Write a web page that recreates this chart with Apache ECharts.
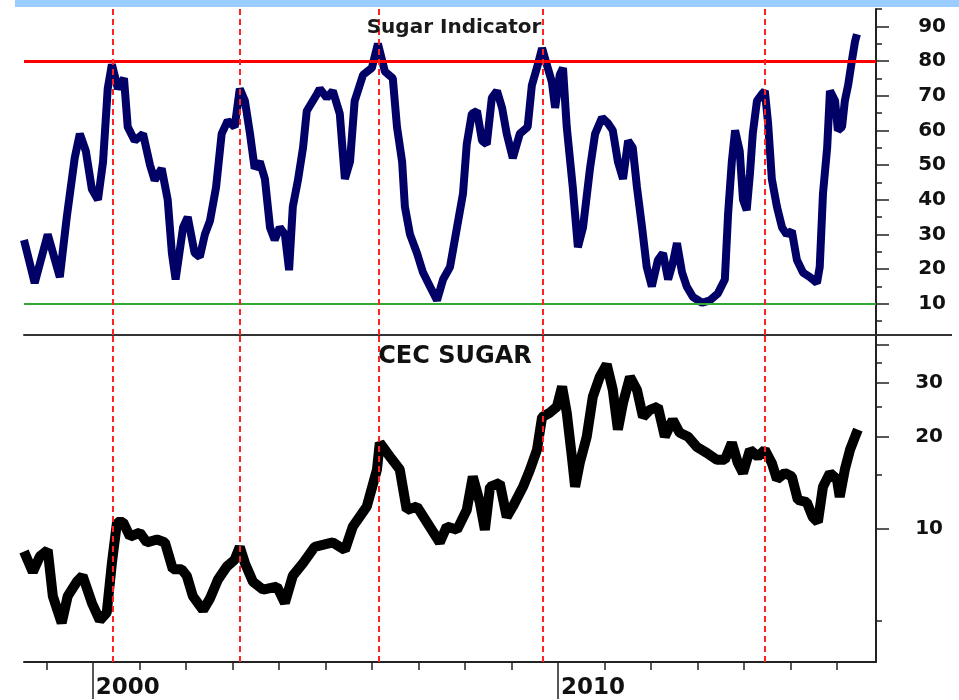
<!DOCTYPE html>
<html>
<head>
<meta charset="utf-8">
<script src="https://cdn.jsdelivr.net/npm/echarts@6/dist/echarts.min.js"></script>
<style>
html, body { margin: 0; padding: 0; background: #fff; }
#chart { width: 959px; height: 700px; }
</style>
</head>
<body>
<div id="chart"></div>
<script>
// Sugar Indicator (top panel), x = decimal year
var indYears = [1998.52, 1998.75, 1999.03, 1999.29, 1999.44, 1999.61, 1999.72, 1999.85, 1999.98, 2000.11,
    2000.22, 2000.32, 2000.41, 2000.54, 2000.67, 2000.75, 2000.90, 2001.08, 2001.23, 2001.33,
    2001.48, 2001.61, 2001.70, 2001.78, 2001.94, 2002.04, 2002.19, 2002.30, 2002.41, 2002.52,
    2002.65, 2002.77, 2002.90, 2003.05, 2003.16, 2003.27, 2003.38, 2003.48, 2003.59, 2003.70,
    2003.81, 2003.91, 2004.02, 2004.13, 2004.22, 2004.30, 2004.41, 2004.52, 2004.60, 2004.82,
    2004.88, 2005.03, 2005.16, 2005.31, 2005.42, 2005.53, 2005.63, 2005.81, 2006.00, 2006.13,
    2006.28, 2006.45, 2006.54, 2006.65, 2006.71, 2006.82, 2006.97, 2007.10, 2007.25, 2007.40,
    2007.53, 2007.68, 2007.83, 2007.96, 2008.04, 2008.15, 2008.26, 2008.37, 2008.47, 2008.58,
    2008.69, 2008.80, 2008.90, 2009.03, 2009.18, 2009.35, 2009.44, 2009.57, 2009.66, 2009.76,
    2009.87, 2009.94, 2010.04, 2010.11, 2010.19, 2010.32, 2010.43, 2010.54, 2010.69, 2010.80,
    2010.95, 2011.08, 2011.18, 2011.29, 2011.40, 2011.51, 2011.61, 2011.70, 2011.81, 2011.91,
    2012.02, 2012.15, 2012.26, 2012.37, 2012.47, 2012.56, 2012.67, 2012.77, 2012.90, 2013.10,
    2013.27, 2013.44, 2013.59, 2013.66, 2013.74, 2013.81, 2013.91, 2013.98, 2014.06, 2014.13,
    2014.19, 2014.28, 2014.39, 2014.45, 2014.52, 2014.60, 2014.71, 2014.82, 2014.92, 2015.03,
    2015.14, 2015.27, 2015.42, 2015.57, 2015.63, 2015.70, 2015.79, 2015.85, 2015.96, 2016.02,
    2016.11, 2016.17, 2016.24, 2016.32, 2016.39, 2016.43];
var indValues = [28.4, 16, 30, 17.7, 35, 52, 59, 54, 43, 40,
    51, 72, 79, 72, 75, 61, 57, 59, 50, 45.6,
    49, 40, 24.6, 17, 32, 35, 24.6, 23.5, 30, 34,
    43.6, 59, 62.8, 61, 72, 68.5, 59, 49, 51, 46,
    32, 28.4, 32, 30, 19.7, 38, 45.6, 55, 65.6, 70.5,
    72, 69.4, 71.4, 64.8, 46, 51, 68.5, 76, 78, 85,
    77, 75, 61, 51, 38, 30, 24.6, 19, 15, 11,
    17, 20.6, 32, 41.8, 56, 64.8, 65.6, 57, 56, 69.4,
    71.4, 66.5, 59, 52, 59, 61, 73, 79, 83.7, 79,
    74, 66.5, 76, 78, 61, 43.6, 26.3, 32, 49, 59,
    63.7, 62, 60, 51, 46, 57, 55, 43.6, 32, 20.6,
    15, 22.6, 24.6, 17, 21.7, 27.5, 19, 15, 12, 10.3,
    11, 13, 17, 36, 51, 60, 54, 40, 37, 47.6,
    59, 68.5, 70.5, 71.4, 62, 46, 38, 32, 30, 31,
    22.6, 19, 17.7, 16, 20.6, 41.8, 55, 71.4, 68.5, 60,
    61, 68.5, 73, 80, 85.7, 87.7];

// CEC SUGAR price (bottom panel, log scale)
var cecYears = [1998.52, 1998.71, 1998.86, 1999.03, 1999.14, 1999.33, 1999.46, 1999.66, 1999.78, 1999.98,
    2000.15, 2000.30, 2000.41, 2000.52, 2000.65, 2000.80, 2001.01, 2001.16, 2001.38, 2001.55,
    2001.72, 2001.91, 2002.02, 2002.15, 2002.37, 2002.52, 2002.69, 2002.88, 2003.05, 2003.16,
    2003.27, 2003.44, 2003.66, 2003.96, 2004.13, 2004.30, 2004.52, 2004.77, 2005.16, 2005.42,
    2005.59, 2005.89, 2006.11, 2006.17, 2006.39, 2006.60, 2006.75, 2006.97, 2007.18, 2007.46,
    2007.61, 2007.83, 2008.04, 2008.17, 2008.32, 2008.43, 2008.54, 2008.75, 2008.90, 2009.03,
    2009.25, 2009.40, 2009.55, 2009.66, 2009.83, 2009.98, 2010.09, 2010.19, 2010.30, 2010.37,
    2010.47, 2010.62, 2010.75, 2010.90, 2011.05, 2011.18, 2011.29, 2011.40, 2011.55, 2011.70,
    2011.83, 2011.98, 2012.15, 2012.30, 2012.47, 2012.62, 2012.80, 2012.99, 2013.20, 2013.42,
    2013.59, 2013.74, 2013.87, 2013.98, 2014.13, 2014.30, 2014.45, 2014.60, 2014.71, 2014.88,
    2015.03, 2015.16, 2015.35, 2015.48, 2015.59, 2015.70, 2015.85, 2016.00, 2016.06, 2016.17,
    2016.28, 2016.39, 2016.45];
var cecValues = [8.4, 7.2, 8.1, 8.5, 6.0, 4.9, 6.0, 6.7, 7.0, 5.7,
    5.0, 5.3, 7.7, 10.5, 10.5, 9.4, 9.7, 9.0, 9.2, 9.0,
    7.35, 7.35, 7.0, 6.0, 5.4, 5.9, 6.8, 7.5, 7.9, 8.7,
    7.7, 6.7, 6.3, 6.45, 5.7, 7.0, 7.7, 8.7, 9.0, 8.5,
    10.15, 11.8, 15.6, 19.1, 17.2, 15.6, 11.5, 11.8, 10.5, 9.0,
    10.15, 9.9, 11.5, 14.8, 12.2, 9.9, 13.7, 14.1, 10.9, 11.8,
    13.7, 15.6, 18.1, 23.2, 24.0, 25.1, 29.2, 24.0, 17.2, 13.7,
    16.4, 20.0, 27.0, 31.4, 34.5, 28.5, 21.1, 25.8, 31.4, 28.5,
    23.2, 24.5, 25.1, 20.0, 22.7, 20.6, 20.0, 18.5, 17.7, 16.8,
    16.8, 19.1, 16.4, 15.2, 18.1, 17.2, 18.1, 16.4, 14.5, 15.2,
    14.8, 12.4, 12.2, 10.9, 10.5, 13.7, 15.2, 14.5, 12.7, 15.6,
    18.1, 20.0, 21.1];

// dashed vertical markers (indicator peaks)
var markerYears = [2000.42, 2003.16, 2006.15, 2009.67, 2014.44];
var yearTicks = [1999, 2000, 2001, 2002, 2003, 2004, 2005, 2006, 2007, 2008, 2009,
    2010, 2011, 2012, 2013, 2014, 2015, 2016];
var decadeLabels = [2000, 2010];
var indMajorTicks = [10, 20, 30, 40, 50, 60, 70, 80, 90];
var indMinorTicks = [5, 15, 25, 35, 45, 55, 65, 75, 85, 95];
var cecMajorTicks = [10, 20, 30, 40];
var cecMinorTicks = [5, 15, 25, 35];
var cecLabels = [10, 20, 30];
var upperLevel = 80;
var lowerLevel = 10;

var FONT = 'DejaVu Sans';
var myChart = echarts.init(document.getElementById('chart'));

function pairs(xs, ys) {
    return xs.map(function (x, i) { return [x, ys[i]]; });
}
var vLines = markerYears.map(function (t) { return { xAxis: t }; });
var dashStyle = { color: '#ff2222', width: 2, type: [6, 4] };

var hidden = { show: false };
var option = {
    animation: false,
    backgroundColor: '#fff',
    graphic: [
        { type: 'rect', shape: { x: 15, y: 0, width: 944, height: 7 }, style: { fill: '#99ccff' } },
        { type: 'line', shape: { x1: 876, y1: 335, x2: 952, y2: 335 }, style: { stroke: '#333', lineWidth: 2 } }
    ],
    title: [{
        text: 'Sugar Indicator', left: 449, top: 13, textAlign: 'center',
        textStyle: { fontFamily: FONT, fontSize: 20, fontWeight: 'bold', color: '#1a1a1a' }
    }, {
        text: 'CEC SUGAR', left: 450, top: 340, textAlign: 'center',
        textStyle: { fontFamily: FONT, fontSize: 24, fontWeight: 'bold', color: '#111' }
    }],
    grid: [
        { left: 24, right: 83, top: 9, height: 326 },
        { left: 24, right: 83, top: 335, height: 328 }
    ],
    xAxis: [{
        gridIndex: 0, type: 'value', position: 'bottom', min: 1998.52, max: 2016.84,
        axisLine: { show: true, onZero: false, lineStyle: { color: '#333', width: 2 } },
        axisTick: hidden, axisLabel: hidden, splitLine: hidden
    }, {
        gridIndex: 1, type: 'value', position: 'bottom', min: 1998.52, max: 2016.84,
        axisLine: { show: true, onZero: false, lineStyle: { color: '#222', width: 2 } },
        axisTick: { show: true, customValues: yearTicks, length: 8, lineStyle: { color: '#222', width: 1.5 } },
        axisLabel: hidden, splitLine: hidden
    }, {
        gridIndex: 1, type: 'value', position: 'bottom', offset: 0, min: 1998.52, max: 2016.84,
        axisLine: { show: false, onZero: false },
        axisTick: { show: true, customValues: decadeLabels, length: 37, lineStyle: { color: '#222', width: 1.5 } },
        axisLabel: {
            show: true, customValues: decadeLabels, align: 'left', margin: 15, padding: [0, 0, 0, 3],
            fontFamily: FONT, fontSize: 23, fontWeight: 'bold', color: '#111',
            formatter: function (v) { return String(v); }
        },
        splitLine: hidden
    }],
    yAxis: [{
        gridIndex: 0, type: 'value', position: 'right', min: 1, max: 95,
        axisLine: { show: true, onZero: false, lineStyle: { color: '#222', width: 2 } },
        axisTick: { show: true, customValues: indMinorTicks, length: 6, lineStyle: { color: '#222', width: 1.5 } },
        axisLabel: hidden, splitLine: hidden
    }, {
        gridIndex: 0, type: 'value', position: 'right', offset: 0, min: 1, max: 95,
        axisLine: { show: false },
        axisTick: { show: true, customValues: indMajorTicks, length: 13, lineStyle: { color: '#222', width: 1.5 } },
        axisLabel: {
            show: true, customValues: indMajorTicks, align: 'right', margin: 70,
            fontFamily: FONT, fontSize: 20, fontWeight: 'bold', color: '#111'
        },
        splitLine: hidden
    }, {
        gridIndex: 1, type: 'log', position: 'right', min: 3.65, max: 43.1,
        axisLine: { show: true, onZero: false, lineStyle: { color: '#222', width: 2 } },
        axisTick: { show: true, customValues: cecMinorTicks, length: 6, lineStyle: { color: '#222', width: 1.5 } },
        axisLabel: hidden, splitLine: hidden, minorTick: hidden
    }, {
        gridIndex: 1, type: 'log', position: 'right', offset: 0, min: 3.65, max: 43.1,
        axisLine: { show: false },
        axisTick: { show: true, customValues: cecMajorTicks, length: 13, lineStyle: { color: '#222', width: 1.5 } },
        axisLabel: {
            show: true, customValues: cecLabels, align: 'right', margin: 67,
            fontFamily: FONT, fontSize: 20, fontWeight: 'bold', color: '#111'
        },
        splitLine: hidden, minorTick: hidden
    }],
    series: [{
        name: 'Sugar Indicator',
        type: 'line',
        xAxisIndex: 0, yAxisIndex: 0,
        data: pairs(indYears, indValues),
        showSymbol: false,
        lineStyle: { color: '#000066', width: 8 },
        markLine: {
            silent: true, symbol: 'none', label: hidden,
            data: [
                { yAxis: upperLevel, lineStyle: { color: '#ff0000', width: 3, type: 'solid' } },
                { yAxis: lowerLevel, lineStyle: { color: '#33a833', width: 2, type: 'solid' } }
            ].concat(vLines),
            lineStyle: dashStyle
        }
    }, {
        name: 'CEC SUGAR',
        type: 'line',
        xAxisIndex: 1, yAxisIndex: 2,
        data: pairs(cecYears, cecValues),
        showSymbol: false,
        lineStyle: { color: '#000', width: 10 },
        markLine: {
            silent: true, symbol: 'none', label: hidden,
            data: vLines,
            lineStyle: dashStyle
        }
    }]
};
myChart.setOption(option);
</script>
</body>
</html>
